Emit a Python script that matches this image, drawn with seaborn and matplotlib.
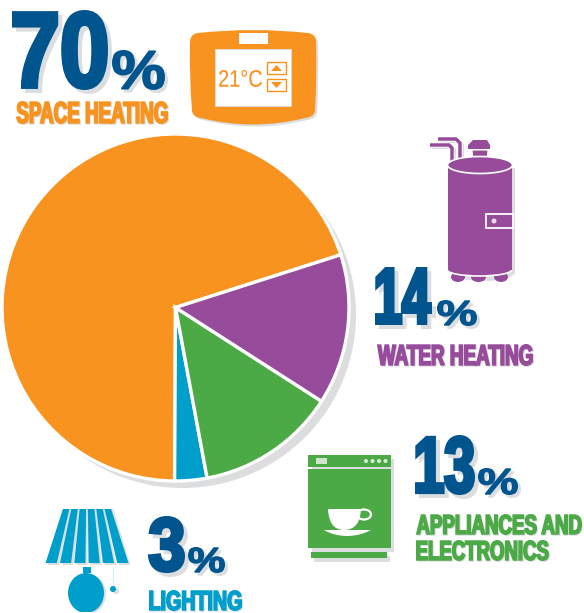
import matplotlib
matplotlib.use("Agg")
import matplotlib.pyplot as plt
import matplotlib.patheffects as pe
from matplotlib.font_manager import FontProperties
from matplotlib.patches import Rectangle, Ellipse, Polygon, PathPatch, Circle
from matplotlib.path import Path
from matplotlib.textpath import TextPath
from matplotlib.transforms import Affine2D
import seaborn as sns

categories = ["Space heating", "Lighting", "Appliances and electronics", "Water heating"]
values = [70, 3, 13, 14]
colors = ["#F7931E", "#009FCB", "#4BA946", "#964B9B"]
NAVY = "#00558F"
SHADOW = "#DCDDDF"

sns.set_theme(style="white")
W, H = 584, 613
fig = plt.figure(figsize=(W / 100, H / 100), dpi=100, facecolor="white")

# pie, in its own axes
cx, cy, r = 175.5, 307.5, 173.5
ax_pie = fig.add_axes([(cx - r) / W, 1 - (cy + r) / H, 2 * r / W, 2 * r / H])
ax_pie.pie(values, colors=[SHADOW] * 4, startangle=17.7, radius=1, center=(7 / r, -7 / r),
           frame=True, wedgeprops=dict(clip_on=False, linewidth=0))
ax_pie.pie(values, colors=colors, startangle=17.7, radius=1, center=(0, 0), frame=True,
           wedgeprops=dict(clip_on=False, edgecolor="white", linewidth=2.4))
ax_pie.set_xlim(-1, 1)
ax_pie.set_ylim(-1, 1)
ax_pie.axis("off")

# overlay in pixel coordinates for the icons and text
ax = fig.add_axes([0, 0, 1, 1], zorder=5)
ax.set_xlim(0, W)
ax.set_ylim(H, 0)
ax.axis("off")
ax.patch.set_alpha(0)


class Layer(pe.AbstractPathEffect):
    """One drawing of the glyphs, made taller about the text baseline."""

    def __init__(self, sy, face, lw, off=0):
        super().__init__(offset=(off * .72, -off * .72))
        self.sy, self.face, self.lw = sy, face, lw

    def draw_path(self, renderer, gc, tpath, affine, rgbFace=None):
        gc0 = renderer.new_gc()
        gc0.copy_properties(gc)
        gc0.set_foreground(self.face)
        gc0.set_linewidth(self.lw)
        gc0.set_joinstyle("miter")
        aff = Affine2D().scale(1, self.sy) + affine + self._offset_transform(renderer)
        renderer.draw_path(gc0, tpath, aff, matplotlib.colors.to_rgba(self.face))
        gc0.restore()


def fitted(s, box, color, thick, shadow=0, weight="bold", z=6):
    x0, y0, x1, y1 = box
    prop = FontProperties(family=["Liberation Sans", "DejaVu Sans"], weight=weight)
    e = TextPath((0, 0), s, size=100, prop=prop).get_extents()
    px = thick / .72
    size = 100 * (x1 - x0 - px) * .72 / e.width
    sy = (y1 - y0 - px) * .72 / (e.height * size / 100)
    fx = x0 + px / 2 - e.x0 * size / 100 / .72
    fy = y1 - px / 2 + e.y0 * size / 100 * sy / .72
    effects = []
    if shadow:
        effects.append(Layer(sy, SHADOW, thick, shadow))
    effects.append(Layer(sy, color, thick))
    ax.text(fx, fy, s, color=color, fontproperties=prop, fontsize=size, ha="left", va="baseline",
            zorder=z, path_effects=effects)


fitted(str(values[0]), (12, 10, 108, 90), NAVY, 3.2, 4)
fitted("%", (112, 50, 165, 90), NAVY, 1.2, 3)
fitted("SPACE HEATING", (16, 101, 168, 124), colors[0], 1.2, 1)
fitted(str(values[3]), (375, 267, 432, 325), NAVY, 2.8, 4)
fitted("%", (437, 300, 477, 326), NAVY, 1.0, 3)
fitted("WATER HEATING", (377, 344, 533, 366), colors[3], 1.2, 1)
fitted(str(values[2]), (415, 435, 475, 495), NAVY, 2.8, 4)
fitted("%", (478, 468, 518, 495), NAVY, 1.0, 3)
fitted("APPLIANCES AND", (416, 514, 582, 535), colors[2], 1.2, 1)
fitted("ELECTRONICS", (416, 540, 549, 561), colors[2], 1.2, 1)
fitted(str(values[1]), (148, 516, 185, 573), NAVY, 2.8, 4)
fitted("%", (188, 547, 225, 573), NAVY, 1.0, 3)
fitted("LIGHTING", (149, 590, 242, 611), colors[1], 1.2, 1)


def qpath(start, segs, fc, z=2, shift=0):
    verts = [start]
    codes = [Path.MOVETO]
    for c, p in segs:
        verts += [c, p]
        codes += [Path.CURVE3, Path.CURVE3]
    verts = [(a + shift, b + shift) for a, b in verts]
    ax.add_patch(PathPatch(Path(verts, codes), fc=fc, ec="none", lw=0, zorder=z))


# thermostat icon
OR = colors[0]
th_start = (198, 33)
th_segs = [((253, 27), (308, 33)), ((316, 34), (316, 42)), ((317, 80), (315, 110)), ((315, 117), (305, 118)),
           ((253, 131), (201, 118)), ((192, 117), (192, 110)), ((189, 75), (190, 42)), ((190, 34), (198, 33))]
qpath(th_start, th_segs, SHADOW, z=1.5, shift=2)
qpath(th_start, th_segs, OR)
ax.add_patch(Rectangle((215, 49), 76, 57, fc="white", ec=SHADOW, lw=.6, zorder=3))
ax.add_patch(Rectangle((239, 33), 29, 11, fc="white", ec="none", zorder=3))
fitted("21°C", (219, 70, 262, 87), OR, 0.1, 0, weight="normal", z=4)
for y0, tip, bas in [(62, 65, 71), (79, 88, 82)]:
    ax.add_patch(Rectangle((267, y0), 19, 12, fc="white", ec=OR, lw=1, zorder=4))
    ax.add_patch(Polygon([(276.5, tip), (271, bas), (282, bas)], fc=OR, ec="none", zorder=5))

# water heater icon
PU = colors[3]
ax.add_patch(Rectangle((451, 168), 64, 104, fc=SHADOW, ec="none", zorder=1))
ax.add_patch(Ellipse((483, 272), 64, 18, fc=SHADOW, ec="none", zorder=1))
for xs, ys in [((430, 449, 452, 452), (145, 145, 148, 163)), ((438, 456, 460, 460), (139, 139, 143, 158))]:
    ax.plot([x + 2 for x in xs], [y + 2 for y in ys], color=SHADOW, lw=3, zorder=1.5, solid_capstyle="butt")
    ax.plot(xs, ys, color="white", lw=3.6, zorder=1.8, solid_capstyle="butt")
    ax.plot(xs, ys, color=PU, lw=2.5, zorder=2, solid_capstyle="butt")
for xf, wf in [(458, 14), (478.5, 15), (501, 14)]:
    ax.add_patch(Ellipse((xf, 277), wf, 10, fc=PU, ec="none", zorder=1.5))
ax.add_patch(Ellipse((479.5, 270), 64, 12, fc=PU, ec="white", lw=1.2, zorder=1.9))
ax.add_patch(Rectangle((447.5, 166), 64, 104, fc=PU, ec="none", zorder=2))
ax.add_patch(Ellipse((480, 165), 65, 17, fc=PU, ec="white", lw=1.2, zorder=2.1))
ax.add_patch(Polygon([(472, 150), (488, 150), (487, 162), (473, 162)], fc=PU, ec="white", lw=.8, zorder=2.05))
ax.add_patch(Polygon([(473, 140), (487, 140), (490, 145), (490, 149), (468, 149), (468, 145)],
                     fc=PU, ec="none", zorder=4))
ax.add_patch(Rectangle((486, 214), 27, 14, fc=PU, ec="white", lw=1.3, zorder=4))
ax.add_patch(Circle((494, 221), 2.5, fc="#E6D9E8", ec="none", zorder=5))

# dishwasher icon
GR = colors[2]
ax.add_patch(Rectangle((312, 459), 82, 93, fc=SHADOW, ec="none", zorder=1))
ax.add_patch(Rectangle((314, 556), 76, 6, fc=SHADOW, ec="none", zorder=1))
ax.add_patch(Rectangle((308, 455), 83, 12, fc=GR, ec="none", zorder=2))
ax.add_patch(Rectangle((308, 469), 83, 79, fc=GR, ec="none", zorder=2))
ax.add_patch(Rectangle((311, 552), 76, 6, fc=GR, ec="none", zorder=2))
ax.add_patch(Rectangle((316, 458), 11, 6, fc="#CFE6CC", ec="none", zorder=3))
for xd in (366, 372.5, 379, 385.5):
    ax.add_patch(Circle((xd, 461), 2, fc="#DDEEDB", ec="none", zorder=3))
qpath((328, 509), [((329, 530), (344, 530)), ((360, 530), (361, 509)), ((345, 509), (328, 509))], "white", z=3)
ax.add_patch(Ellipse((364, 514.5), 14, 10, fc="none", ec="white", lw=1.6, zorder=3))
qpath((324, 530), [((347, 530), (371, 530)), ((360, 536), (347, 536)), ((334, 536), (324, 530))], "white", z=3)

# lamp icon
BL = colors[1]
n = 6
xt0, xt1, xb0, xb1 = 62, 112, 44, 130
for off, col, z in [(2, SHADOW, 1), (0, BL, 2)]:
    for k in range(n):
        a, b = k / n + .018, (k + 1) / n - .018
        ax.add_patch(Polygon([(xt0 + a * (xt1 - xt0) + off, 509), (xt0 + b * (xt1 - xt0) + off, 509),
                              (xb0 + b * (xb1 - xb0) + off, 563 + off), (xb0 + a * (xb1 - xb0) + off, 563 + off)],
                             fc=col, ec="none", zorder=z))
ax.add_patch(Rectangle((83, 567), 8, 6, fc=BL, ec="none", zorder=2))
ax.add_patch(Ellipse((88, 594), 36, 40, fc=SHADOW, ec="none", zorder=1))
ax.add_patch(Ellipse((86, 593), 36, 40, fc=BL, ec="none", zorder=2))
ax.add_patch(Rectangle((60, 612), 60, 4, fc="white", ec="none", zorder=3))
ax.plot([113, 113], [567, 586], color="#D8EEF5", lw=1, zorder=2)
ax.add_patch(Circle((116, 591), 3, fc=SHADOW, ec="none", zorder=1))
ax.add_patch(Circle((113, 589), 3, fc=BL, ec="none", zorder=2))

fig.savefig("out.png", dpi=100, facecolor="white")
